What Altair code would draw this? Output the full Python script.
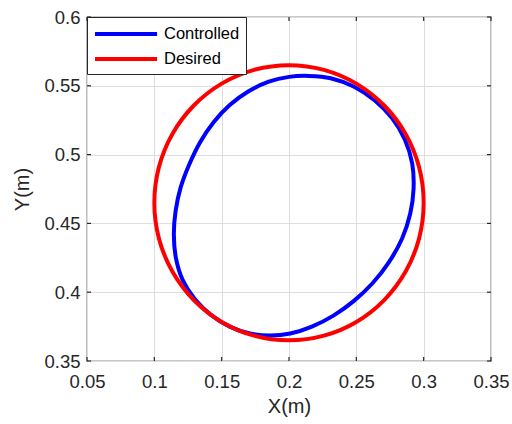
import altair as alt
import pandas as pd

x_ticks = [0.05, 0.1, 0.15, 0.2, 0.25, 0.3, 0.35]
y_ticks = [0.35, 0.4, 0.45, 0.5, 0.55, 0.6]
series_names = ["Controlled", "Desired"]
series_colors = ["#0000FF", "#FF0000"]

# Controlled trajectory
ctrl_x = [0.2150, 0.2000, 0.1850, 0.1700, 0.1560, 0.1440, 0.1340, 0.1260, 0.1195,
          0.1158, 0.1145, 0.1160, 0.1210, 0.1300, 0.1420, 0.1560, 0.1710, 0.1860,
          0.2010, 0.2170, 0.2330, 0.2480, 0.2620, 0.2740, 0.2840, 0.2900, 0.2925,
          0.2915, 0.2860, 0.2765, 0.2635, 0.2480, 0.2310]
ctrl_y = [0.5572, 0.5565, 0.5530, 0.5460, 0.5360, 0.5235, 0.5090, 0.4930, 0.4760,
          0.4590, 0.4420, 0.4250, 0.4090, 0.3950, 0.3835, 0.3750, 0.3700, 0.3685,
          0.3700, 0.3750, 0.3830, 0.3935, 0.4065, 0.4215, 0.4390, 0.4570, 0.4750,
          0.4935, 0.5110, 0.5265, 0.5395, 0.5495, 0.5555]

# Desired trajectory
des_x = [0.3000, 0.2966, 0.2866, 0.2707, 0.2500, 0.2259, 0.2000, 0.1741, 0.1500,
         0.1293, 0.1134, 0.1034, 0.1000, 0.1034, 0.1134, 0.1293, 0.1500, 0.1741,
         0.2000, 0.2259, 0.2500, 0.2707, 0.2866, 0.2966]
des_y = [0.4650, 0.4909, 0.5150, 0.5357, 0.5516, 0.5616, 0.5650, 0.5616, 0.5516,
         0.5357, 0.5150, 0.4909, 0.4650, 0.4391, 0.4150, 0.3943, 0.3784, 0.3684,
         0.3650, 0.3684, 0.3784, 0.3943, 0.4150, 0.4391]

rows = []
for i, (x, y) in enumerate(zip(ctrl_x, ctrl_y)):
    rows.append({"x": x, "y": y, "series": "Controlled", "i": i})
for i, (x, y) in enumerate(zip(des_x, des_y)):
    rows.append({"x": x, "y": y, "series": "Desired", "i": i})
df = pd.DataFrame(rows)

xt = pd.DataFrame({"x": x_ticks})
yt = pd.DataFrame({"y": y_ticks})

FONT = "Liberation Sans"
TXT = "#262626"
W, H = 404, 344

xscale = alt.Scale(domain=[0.05, 0.35], nice=False, zero=False)
yscale = alt.Scale(domain=[0.35, 0.6], nice=False, zero=False)
xaxis = alt.Axis(values=x_ticks, format="~g", title="X(m)",
                 labelFlush=False, labelOverlap=False,
                 ticks=False, domain=False, labelPadding=11,
                 titleY=45, titleBaseline="middle")
yaxis = alt.Axis(values=y_ticks, format="~g", title="Y(m)",
                 labelFlush=False, labelOverlap=False,
                 ticks=False, domain=False, labelPadding=7,
                 titleX=-65, titleY=172, titleBaseline="middle")

lines = alt.Chart(df).mark_line(
    strokeWidth=4, interpolate="cardinal-closed", clip=True
).encode(
    x=alt.X("x:Q", scale=xscale, axis=xaxis),
    y=alt.Y("y:Q", scale=yscale, axis=yaxis),
    color=alt.Color("series:N",
                    scale=alt.Scale(domain=series_names, range=series_colors),
                    legend=alt.Legend(title=None, orient="none", legendX=0, legendY=0,
                                      symbolType="M-1,0H5.9", symbolSize=324,
                                      symbolStrokeWidth=4, labelFontSize=16.5,
                                      labelFont=FONT, labelColor="black",
                                      padding=6, rowPadding=5, labelOffset=49,
                                      strokeColor=TXT, fillColor="white")),
    order="i:Q",
)

tick_style = dict(color=TXT, strokeWidth=1.2)
bot = alt.Chart(xt).mark_rule(**tick_style).encode(
    x=alt.X("x:Q", scale=xscale, axis=xaxis),
    y=alt.value(H), y2=alt.value(H - 4))
top = alt.Chart(xt).mark_rule(**tick_style).encode(
    x=alt.X("x:Q", scale=xscale, axis=xaxis),
    y=alt.value(0), y2=alt.value(4))
left = alt.Chart(yt).mark_rule(**tick_style).encode(
    y=alt.Y("y:Q", scale=yscale, axis=yaxis),
    x=alt.value(0), x2=alt.value(4))
right = alt.Chart(yt).mark_rule(**tick_style).encode(
    y=alt.Y("y:Q", scale=yscale, axis=yaxis),
    x=alt.value(W), x2=alt.value(W - 4))

chart = alt.layer(lines, bot, top, left, right).properties(
    width=W, height=H,
    padding={"left": 87, "top": 17, "right": 21, "bottom": 63},
    autosize="none",
    background="white",
).configure_view(
    stroke=TXT, strokeWidth=1.2
).configure_axis(
    labelFont=FONT, labelFontSize=18.5, labelColor=TXT,
    titleFont=FONT, titleFontSize=20, titleColor=TXT, titleFontWeight="normal",
    gridColor="#dedede", gridWidth=1,
)

chart.save("out.html", embed_options={"renderer": "svg", "actions": False})
